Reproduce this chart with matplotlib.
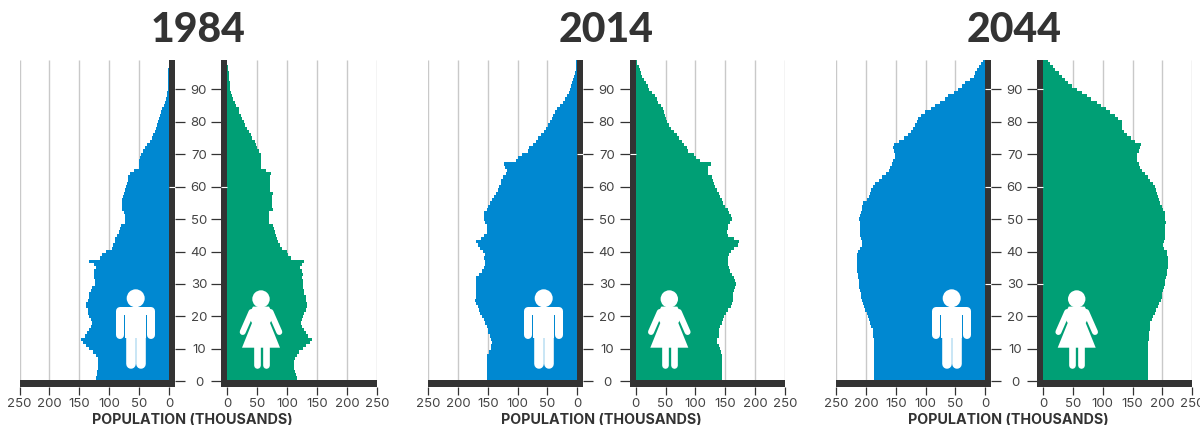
import matplotlib
matplotlib.use("Agg")
import matplotlib.pyplot as plt
from matplotlib.patches import Circle, Polygon, Rectangle

plt.rcParams['font.family'] = ['Inter', 'DejaVu Sans']

W, H = 1200, 425

# thousands of people by single year of age, index 0 = age 0
ages = list(range(100))

male_1984 = [122,122,121,120,119,118,118,119,122,127,133,138,143,147,140,137,134,130,129,130,
             133,135,136,138,138,136,134,133,130,129,124,124,125,126,125,122,126,133,115,112,
             105,96,93,90,90,87,84,82,80,74,74,74,75,79,79,78,78,77,76,73,
             72,71,69,68,66,58,50,50,50,49,47,43,40,36,32,29,26,24,22,20,
             18,16,15,13,11,9,6,5,4,3,2,2,2,1,1,1,1,0,0,0]
female_1984 = [117,117,114,113,111,111,112,113,116,120,126,131,138,141,135,131,129,124,123,124,
               127,129,132,133,134,132,131,129,128,126,126,126,124,126,124,121,124,128,107,102,
               99,91,88,85,83,82,80,78,77,70,70,70,70,77,74,74,74,74,77,72,
               72,72,72,72,73,64,57,57,57,57,57,53,50,48,46,42,39,36,33,30,
               27,24,22,20,19,14,12,10,8,6,4,4,4,3,2,2,1,1,0,0]

male_2014 = [151,151,151,151,151,151,151,151,151,148,145,144,143,144,147,149,150,152,155,157,
             160,163,165,167,170,172,170,169,169,170,170,170,169,164,160,156,155,155,157,155,
             158,163,167,170,162,157,152,151,152,155,157,157,156,152,149,146,143,140,136,132,
             131,128,127,124,119,118,121,123,103,99,92,83,80,74,69,65,61,56,52,48,
             45,42,40,37,34,29,24,20,17,14,12,10,9,7,5,4,2,2,1,1]
female_2014 = [144,144,144,144,144,144,144,144,144,143,141,139,137,137,139,140,140,141,144,146,
               148,152,155,159,161,163,163,163,164,167,168,167,164,161,158,157,155,155,155,157,
               159,164,171,173,164,155,153,154,155,158,161,159,157,154,150,147,144,141,139,136,
               133,131,129,128,122,121,121,126,107,101,97,88,86,81,77,73,69,64,60,56,
               53,51,49,47,46,42,38,35,32,27,23,20,17,14,11,9,7,5,3,2]

male_2044 = [187,187,187,187,187,187,187,187,187,187,187,187,187,187,188,188,189,191,193,195,
             197,199,201,203,205,206,208,209,210,211,212,212,213,214,215,216,216,216,216,215,
             213,210,207,207,209,210,210,210,210,210,211,210,209,207,206,205,199,195,193,191,
             188,185,179,174,167,161,159,156,154,152,152,153,154,153,144,137,129,125,121,118,
             115,112,108,101,91,84,76,68,62,52,45,39,33,25,18,17,14,10,6,4]
female_2044 = [176,176,176,176,176,176,176,176,176,176,176,176,176,177,177,178,179,179,180,182,
               185,188,190,193,195,197,199,200,201,203,204,205,206,207,208,209,209,209,209,207,
               207,203,201,203,204,205,205,205,205,206,205,204,204,201,199,196,194,193,191,190,
               188,185,180,176,171,165,162,160,158,157,158,160,162,164,154,148,141,136,133,133,
               132,126,121,112,105,97,90,81,73,65,57,48,42,37,31,26,20,16,12,9]

years = ["1984", "2014", "2044"]
males = [male_1984, male_2014, male_2044]
females = [female_1984, female_2014, female_2044]
x_ticks = [0, 50, 100, 150, 200, 250]
age_ticks = [0, 10, 20, 30, 40, 50, 60, 70, 80, 90]
# ticks that show up white on the dark bars
white_ticks = [[60], [70], [30, 60, 90]]

BLUE = "#0088d1"
GREEN = "#009f75"
DARK = "#333333"
GRID = "#c9c9c9"
TEXT = "#444444"

# pixel positions per panel
male_left = [19.5, 428.3, 836.3]
male_zero = [169.0, 577.0, 985.0]
female_zero = [227.4, 635.7, 1043.0]
female_right = [376.8, 784.8, 1192.3]
PX_TOP, PX_BOTTOM = 60.0, 387.0
AGE0_PX = 381.3
PX_PER_AGE = 3.244
BAR_PX = 6.0


def px_axes(fig, x0, x1):
    return fig.add_axes([x0 / W, 1 - PX_BOTTOM / H, (x1 - x0) / W, (PX_BOTTOM - PX_TOP) / H])


def style_axes(ax, whites, is_male):
    age_lo = (AGE0_PX - PX_BOTTOM) / PX_PER_AGE
    age_hi = (AGE0_PX - PX_TOP) / PX_PER_AGE
    ax.set_ylim(age_lo, age_hi)
    for s in ax.spines.values():
        s.set_visible(False)
    ax.set_xticks(x_ticks)
    ax.set_yticks(age_ticks)
    ax.tick_params(axis="x", length=5.8, width=0.9, color=DARK, labelcolor=TEXT, labelsize=9.5, pad=2.2)
    ax.vlines(x_ticks[1:], 0, age_hi, color=GRID, lw=1, zorder=1)
    pad = ax.get_xlim()[1] if is_male else ax.get_xlim()[0]
    ax.axvspan(0, pad, color=DARK, lw=0, zorder=4)
    ax.axhspan(age_lo, age_lo + 7 / PX_PER_AGE, color=DARK, lw=0, zorder=4)
    ax.hlines(whites, 0, pad, color="white", lw=0.8, zorder=5)


def draw_man(ov, cx):
    ov.add_patch(Circle((cx, 298.3), 9, fc="white", ec="none"))
    ov.add_patch(Rectangle((cx - 10.4, 307), 20.8, 31, fc="white", ec="none"))
    for side in (-1, 1):
        ov.plot([cx + side * 15.6, cx + side * 15.6], [311, 335], color="white", lw=5.76, solid_capstyle="round")
        ov.plot([cx + side * 5.2, cx + side * 5.2], [338, 363.5], color="white", lw=6.9, solid_capstyle="round")
    ov.plot([cx - 15.6, cx + 15.6], [311, 311], color="white", lw=5.76, solid_capstyle="butt")


def draw_woman(ov, cx):
    ov.add_patch(Circle((cx, 299), 8.7, fc="white", ec="none"))
    ov.add_patch(Polygon([(cx - 8, 306.6), (cx + 8, 306.6), (cx + 13, 316), (cx + 9, 323), (cx + 19, 347.7),
                          (cx - 19, 347.7), (cx - 9, 323), (cx - 13, 316)], fc="white", ec="none"))
    for side in (-1, 1):
        ov.plot([cx + side * 9.5, cx + side * 18.3], [312, 332], color="white", lw=4.3, solid_capstyle="round")
        ov.plot([cx + side * 4.5, cx + side * 4.5], [345, 365], color="white", lw=4.8, solid_capstyle="round")


fig = plt.figure(figsize=(W / 100, H / 100), dpi=100, facecolor="white")

for i, year in enumerate(years):
    per_unit = (male_zero[i] - male_left[i]) / 250
    ax_m = px_axes(fig, male_left[i], male_zero[i] + BAR_PX)
    ax_m.set_xlim(250, -BAR_PX / per_unit)
    ax_m.barh(ages, males[i], height=1.0, color=BLUE, lw=0, zorder=2)
    style_axes(ax_m, white_ticks[i], True)
    ax_m.yaxis.tick_right()
    ax_m.tick_params(axis="y", length=7.2, width=0.9, color=DARK, labelcolor=TEXT, labelsize=9.5, pad=10)
    for lab in ax_m.get_yticklabels():
        lab.set_ha("center")

    per_unit = (female_right[i] - female_zero[i]) / 250
    ax_f = px_axes(fig, female_zero[i] - BAR_PX, female_right[i])
    ax_f.set_xlim(-BAR_PX / per_unit, 250)
    ax_f.barh(ages, females[i], height=1.0, color=GREEN, lw=0, zorder=2)
    style_axes(ax_f, white_ticks[i], False)
    ax_f.tick_params(axis="y", length=7.2, width=0.9, color=DARK, labelleft=False)

    mid = (male_left[i] + female_right[i]) / 2
    fig.text(mid / W, 1 - 30 / H, year, ha="center", va="center", fontsize=29.5, fontweight="black",
             family=["Lato", "DejaVu Sans"], color=DARK)
    fig.text((mid - 5.5) / W, 1 - 420 / H, "POPULATION (THOUSANDS)", ha="center", va="center",
             fontsize=10.3, fontweight="bold", color=DARK)

# overlay in pixels for the person icons
ov = fig.add_axes([0, 0, 1, 1], zorder=10)
ov.set_xlim(0, W)
ov.set_ylim(H, 0)
ov.axis("off")
for cx in [135.7, 543.7, 951.7]:
    draw_man(ov, cx)
for cx in [261.0, 669.3, 1076.7]:
    draw_woman(ov, cx)

fig.savefig("out.png", dpi=100, facecolor="white")
